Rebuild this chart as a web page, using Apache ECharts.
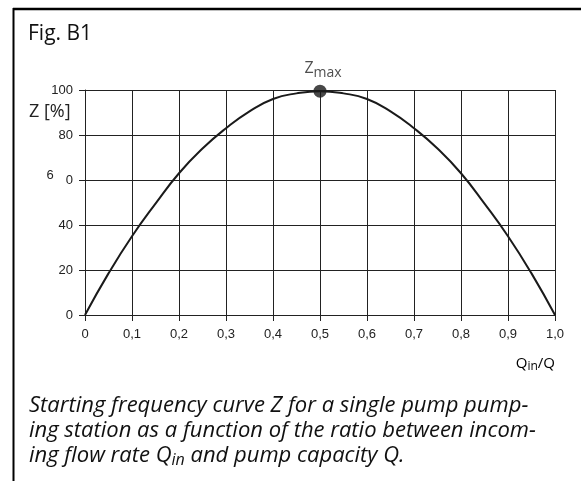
<!DOCTYPE html>
<html>
<head>
<meta charset="utf-8">
<script src="https://cdn.jsdelivr.net/npm/echarts@6/dist/echarts.min.js"></script>
<style>
  html, body { margin: 0; padding: 0; background: #fff; }
  #chart { width: 581px; height: 486px; }
</style>
</head>
<body>
<div id="chart"></div>
<script>
// Starting frequency curve Z vs Qin/Q
const chart = echarts.init(document.getElementById('chart'));

const ratio = [0, 0.05, 0.1, 0.15, 0.2, 0.25, 0.3, 0.35, 0.4, 0.45, 0.5,
  0.55, 0.6, 0.65, 0.7, 0.75, 0.8, 0.85, 0.9, 0.95, 1.0];
const zValues = [0, 18.5, 35, 49.5, 63, 74, 83, 90.5, 96, 98.5, 99.5,
  98.5, 96, 90.5, 83, 74, 63, 49.5, 35, 18.5, 0];
const zMax = [0.5, 99.5];
const xTickLabels = ['0', '0,1', '0,2', '0,3', '0,4', '0,5', '0,6', '0,7', '0,8', '0,9', '1,0'];
const yTickLabels = ['0', '20', '40', '{six|6}{gap|}0', '80', '100'];

const curve = ratio.map((x, i) => [x, zValues[i]]);

const tickFont = {
  fontFamily: 'Liberation Sans',
  fontSize: 13,
  color: '#222'
};
const capFont = '"Open Sans", sans-serif';

const option = {
  animation: false,
  grid: {
    left: 85,
    right: 26,
    top: 90,
    bottom: 171
  },
  xAxis: {
    type: 'value',
    min: 0,
    max: 1,
    interval: 0.1,
    axisLine: { show: true, lineStyle: { color: '#222', width: 1 } },
    axisTick: { show: true, length: 6, lineStyle: { color: '#222' } },
    splitLine: { show: true, lineStyle: { color: '#222', width: 1 } },
    axisLabel: Object.assign({}, tickFont, {
      margin: 13,
      formatter: (v, i) => xTickLabels[i]
    })
  },
  yAxis: {
    type: 'value',
    min: 0,
    max: 100,
    interval: 20,
    axisLine: { show: true, lineStyle: { color: '#222', width: 1 } },
    axisTick: { show: true, length: 6, lineStyle: { color: '#222' } },
    splitLine: { show: true, lineStyle: { color: '#222', width: 1 } },
    axisLabel: Object.assign({}, tickFont, {
      margin: 12,
      formatter: (v, i) => yTickLabels[i],
      rich: {
        six: { fontFamily: 'Liberation Sans', fontSize: 13, color: '#222', padding: [0, 0, 10, 0] },
        gap: { width: 12 }
      }
    })
  },
  series: [
    {
      type: 'line',
      data: curve,
      smooth: true,
      showSymbol: false,
      lineStyle: { color: '#1a1a1a', width: 2 }
    },
    {
      type: 'scatter',
      data: [zMax],
      symbolSize: 13,
      itemStyle: { color: '#1a1a1a' },
      label: {
        show: true,
        position: 'top',
        distance: 5,
        offset: [3, 0],
        formatter: '{z|Z}{m|max}',
        rich: {
          z: { fontFamily: capFont, fontSize: 16, color: '#222' },
          m: { fontFamily: capFont, fontSize: 14, color: '#222', padding: [9, 0, 0, 0] }
        }
      }
    }
  ],
  graphic: [
    // frame
    { type: 'line', shape: { x1: 13, y1: 9, x2: 581, y2: 9 }, style: { stroke: '#000', lineWidth: 2.5 } },
    { type: 'line', shape: { x1: 13.5, y1: 8, x2: 13.5, y2: 481 }, style: { stroke: '#000', lineWidth: 2 } },
    {
      type: 'text', left: 28, top: 24,
      style: { text: 'Fig. B1', font: '21px ' + capFont, fill: '#111' }
    },
    {
      type: 'text', left: 29, top: 103,
      style: { text: 'Z [%]', font: '18px ' + capFont, fill: '#222' }
    },
    {
      type: 'text', right: 26, top: 356,
      style: {
        text: '{q|Q}{s|in}{q|/Q}',
        rich: {
          q: { fontFamily: capFont, fontSize: 15, color: '#222' },
          s: { fontFamily: capFont, fontSize: 12, color: '#222', padding: [7, 0, 0, 0] }
        }
      }
    },
    {
      type: 'text', left: 29, top: 393,
      style: {
        text: 'Starting frequency curve Z for a single pump pump-\n' +
          'ing station as a function of the ratio between incom-\n' +
          'ing flow rate Q{s|in} and pump capacity Q.',
        font: 'italic 22px ' + capFont,
        lineHeight: 25,
        fill: '#111',
        rich: {
          s: { fontFamily: capFont, fontStyle: 'italic', fontSize: 16, color: '#111', padding: [9, 0, 0, 0] }
        }
      }
    }
  ]
};
chart.setOption(option);
</script>
</body>
</html>
